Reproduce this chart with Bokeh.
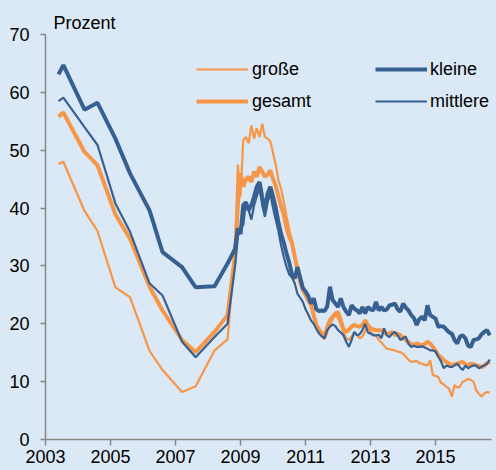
import re
from bokeh.plotting import figure
from bokeh.models import Range1d, FixedTicker, Legend, LegendItem
from bokeh.embed import file_html
from bokeh.resources import INLINE

# ---- data ----
# semi-annual survey points before the monthly series
pre_dates = [2003.4, 2003.55, 2004.2, 2004.6, 2005.15, 2005.6, 2006.2, 2006.6, 2007.2, 2007.62, 2008.2, 2008.6]
grosse_pre = [47.6, 48.0, 39.5, 36.0, 26.3, 24.6, 15.3, 12.0, 8.2, 9.2, 15.4, 17.3]
gesamt_pre = [55.8, 56.5, 49.7, 47.4, 38.9, 34.7, 26.4, 22.3, 17.2, 15.1, 18.6, 21.5]
kleine_pre = [63.1, 64.7, 57.0, 58.2, 52.0, 46.0, 39.6, 32.4, 29.8, 26.3, 26.5, 30.4]
mittlere_pre = [58.5, 59.1, 54.0, 50.9, 40.8, 35.9, 27.0, 24.9, 16.9, 14.2, 17.7, 20.0]

# monthly values, Nov 2008 .. Sep 2016
month_dates = [2008 + (10 + i) / 12 for i in range(95)]
grosse_m = [33, 47.5, 42, 51.7, 52.3, 51.2, 54.3, 52.0, 53.8, 52.3,
            54.6, 52.3, 52.0, 51.5, 49.5, 47.5, 44.8, 43.3, 41.0, 38.5,
            36.2, 34.4, 32.1, 30.0, 27.5, 25.5, 24.8, 24.0, 23.2, 21.0,
            19.6, 18.8, 18.2, 17.3, 18.5, 20.0, 20.8, 21.5, 21.0, 19.8,
            18.5, 17.5, 17.2, 17.8, 18.5, 18.0, 17.5, 17.8, 18.8, 19.5,
            18.5, 18.2, 18.0, 17.2, 16.8, 16.2, 15.7, 15.6, 15.5, 15.4,
            15.2, 15.1, 14.8, 14.3, 13.8, 13.4, 13.5, 13.6, 13.2, 13.1,
            12.9, 12.8, 13.7, 11.1, 11.0, 10.8, 9.8, 9.5, 9.1, 8.8,
            7.4, 9.4, 9.0, 9.1, 10.0, 10.2, 10.5, 10.3, 10.0, 8.5,
            7.9, 7.4, 8.0, 8.2, 8.1]
gesamt_m = [32, 40.5, 46.0, 43.7, 45.0, 45.4, 44.5, 46.3, 45.4, 47.1,
            46.3, 45.4, 45.8, 46.5, 45.0, 43.8, 42.0, 40.2, 38.8, 36.5,
            35.0, 33.9, 31.6, 29.5, 27.2, 25.8, 25.0, 24.0, 23.3, 21.5,
            19.8, 19.0, 18.3, 17.8, 19.5, 20.6, 21.2, 21.8, 22.0, 20.6,
            19.0, 18.6, 19.0, 19.5, 19.8, 19.6, 19.5, 19.8, 20.6, 19.8,
            19.2, 19.0, 18.9, 18.9, 18.9, 18.4, 18.3, 18.3, 18.6, 18.0,
            18.3, 18.0, 17.6, 17.2, 16.8, 16.5, 16.3, 16.6, 16.4, 16.3,
            16.5, 16.9, 16.6, 16.0, 15.3, 14.6, 14.2, 13.7, 13.4, 13.1,
            12.8, 13.0, 13.1, 13.3, 13.4, 13.0, 12.8, 13.1, 13.0, 12.8,
            12.7, 12.5, 12.8, 13.2, 13.4]
kleine_m = [33, 36.5, 35.5, 40.5, 41.0, 39.6, 40.5, 42.0, 43.7, 44.5,
            41.9, 39.6, 42.5, 43.7, 42.0, 40.0, 37.5, 35.5, 33.9, 32.1,
            30.5, 28.5, 27.8, 29.8, 28.0, 26.2, 25.6, 24.8, 23.5, 24.4,
            22.5, 22.2, 22.3, 22.2, 23.0, 26.4, 24.1, 23.5, 22.9, 24.4,
            22.9, 22.1, 21.5, 23.2, 22.6, 22.3, 21.8, 22.9, 21.8, 22.9,
            22.5, 22.3, 23.8, 22.3, 22.9, 22.3, 22.5, 23.2, 23.3, 23.5,
            22.5, 22.1, 23.5, 22.8, 22.3, 21.5, 21.0, 19.8, 20.8, 21.2,
            20.6, 23.2, 21.5, 21.2, 20.9, 19.5, 19.6, 19.5, 19.0, 18.5,
            18.3, 17.2, 16.6, 17.8, 18.0, 17.5, 16.2, 16.0, 17.2, 17.3,
            17.5, 18.2, 18.6, 18.9, 18.0]
mittlere_m = [30, 35, 36.7, 37.0, 41.1, 39.6, 38.0, 40.5, 42.0, 43.5,
              40.5, 38.5, 41.0, 42.5, 40.0, 38.0, 36.0, 33.5, 31.5, 29.8,
              28.5, 28.0, 27.0, 25.2, 24.5, 23.8, 22.5, 21.6, 20.6, 20.0,
              19.1, 18.3, 17.8, 17.5, 18.9, 19.5, 19.9, 19.6, 18.9, 18.5,
              18.0, 16.9, 16.0, 17.2, 18.6, 18.0, 18.2, 18.9, 20.0, 18.5,
              18.3, 18.0, 18.0, 18.1, 17.5, 19.2, 18.0, 17.7, 18.3, 18.6,
              18.0, 17.2, 17.5, 17.8, 16.5, 16.0, 16.2, 16.0, 16.0, 16.1,
              15.9, 15.7, 15.4, 15.4, 15.2, 14.3, 13.5, 12.3, 12.8, 12.6,
              12.5, 12.8, 13.1, 12.5, 12.0, 12.8, 12.3, 12.6, 12.8, 12.8,
              12.3, 12.6, 12.8, 13.1, 13.8]

x_ticks = [2003, 2005, 2007, 2009, 2011, 2013, 2015]
y_ticks = [0, 10, 20, 30, 40, 50, 60, 70]

BG = "#dbe8f5"
ORANGE = "#f79646"
BLUE = "#376092"
FONT = "Liberation Sans"

p = figure(width=496, height=470, output_backend="svg", toolbar_location=None,
           x_range=Range1d(2003, 2016.72), y_range=Range1d(0, 70),
           min_border_left=45, min_border_right=5, min_border_top=34, min_border_bottom=31)
p.background_fill_color = BG
p.border_fill_color = BG
p.outline_line_color = None
p.xgrid.visible = False
p.ygrid.visible = False

p.title.text = "Prozent"
p.title.align = "left"
p.title.offset = 8
p.title.standoff = 3
p.title.text_font = FONT
p.title.text_font_size = "18px"
p.title.text_font_style = "normal"
p.title.text_color = "#000000"

x_all = pre_dates + month_dates
r_gr = p.line(x_all, grosse_pre + grosse_m, line_color=ORANGE, line_width=2.2)
r_ge = p.line(x_all, gesamt_pre + gesamt_m, line_color=ORANGE, line_width=4)
r_mi = p.line(x_all, mittlere_pre + mittlere_m, line_color=BLUE, line_width=2.2)
r_kl = p.line(x_all, kleine_pre + kleine_m, line_color=BLUE, line_width=4)

for ax in (p.xaxis[0], p.yaxis[0]):
    ax.axis_line_color = "#868686"
    ax.axis_line_width = 1.5
    ax.major_tick_line_color = "#868686"
    ax.major_tick_line_width = 1.5
    ax.major_tick_in = 0
    ax.minor_tick_line_color = None
    ax.major_label_text_font = FONT
    ax.major_label_text_font_size = "18px"
    ax.major_label_text_color = "#000000"

p.xaxis.ticker = FixedTicker(ticks=x_ticks)
p.yaxis.ticker = FixedTicker(ticks=y_ticks)
p.xaxis.major_tick_out = 6
p.yaxis.major_tick_out = 5
p.yaxis.major_label_standoff = 11
p.xaxis.major_label_standoff = 4

def make_legend(items, x, y, gw, standoff):
    lg = Legend(items=items, location=(x, y), orientation="vertical",
                padding=0, margin=0, spacing=0, border_line_color=None,
                background_fill_alpha=0, glyph_width=gw, glyph_height=32,
                label_height=32, label_standoff=standoff,
                label_text_font=FONT, label_text_font_size="18px", label_text_color="#000000")
    return lg

leg1 = make_legend([LegendItem(label="große", renderers=[r_gr]),
                    LegendItem(label="gesamt", renderers=[r_ge])], 151, 322, 52, 4)
leg2 = make_legend([LegendItem(label="kleine", renderers=[r_kl]),
                    LegendItem(label="mittlere", renderers=[r_mi])], 330, 322, 52, 3)
p.add_layout(leg1, "center")
p.add_layout(leg2, "center")

html = file_html(p, INLINE)
style = "<style>html,body{margin:0;padding:0;background:%s;overflow:hidden}</style>" % BG
html = html.replace("</head>", style + "</head>", 1)
open("out.html", "w").write(html)
